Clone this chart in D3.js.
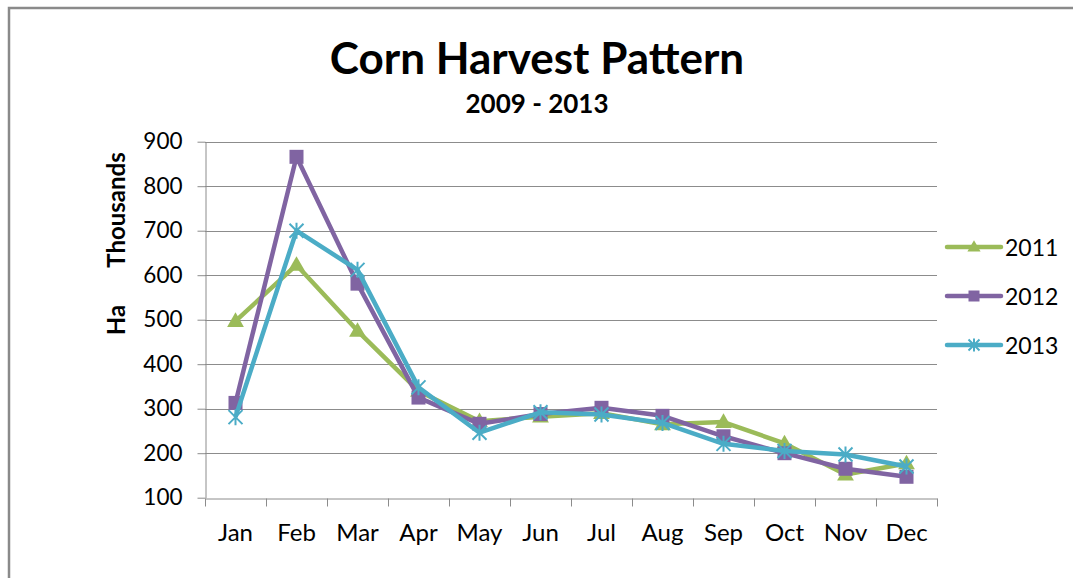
<!DOCTYPE html>
<html><head><meta charset="utf-8">
<script src="https://cdn.jsdelivr.net/npm/d3@7"></script>
<style>
html,body{margin:0;padding:0;background:#fff;}
svg{display:block;font-family:Lato,"Open Sans",sans-serif;}
</style></head>
<body><svg id="c" width="1073" height="578"></svg>
<script>
const months = ["Jan","Feb","Mar","Apr","May","Jun","Jul","Aug","Sep","Oct","Nov","Dec"];
const yTicks = [100,200,300,400,500,600,700,800,900];
const series2011 = [497,623,475,340,272,282,290,265,270,222,152,177];
const series2012 = [313,866,581,325,266,288,302,284,238,200,165,147];
const series2013 = [281,700,612,348,246,292,287,268,221,205,197,170];
const seriesNames = ["2011","2012","2013"];
const seriesColors = ["#9BBB59","#8064A2","#4BACC6"];
const seriesMarkers = ["triangle","square","star"];
const title = "Corn Harvest Pattern";
const subtitle = "2009 - 2013";
const yLabelTop = "Thousands";
const yLabelBottom = "Ha";

const svg = d3.select("#c");
// outer border
svg.append("rect").attr("x",9).attr("y",8).attr("width",1100).attr("height",600)
  .attr("fill","#fff").attr("stroke","#8a8a8a").attr("stroke-width",2.5);

const L=205,R=937,T=141.7,B=497.7;
const x = d3.scaleBand().domain(months).range([L,R]);
const y = d3.scaleLinear().domain([100,900]).range([B,T]);

// gridlines
svg.append("g").selectAll("line").data(yTicks.slice(1)).join("line")
  .attr("x1",L).attr("x2",R).attr("y1",d=>Math.round(y(d))+0.5).attr("y2",d=>Math.round(y(d))+0.5)
  .attr("stroke","#8c8c8c").attr("stroke-width",1);

// y axis
const yAxis = d3.axisLeft(y).tickValues(yTicks).tickSize(8).tickPadding(15).tickSizeOuter(0);
const gy = svg.append("g").attr("transform",`translate(${L+0.5},0)`).call(yAxis);
gy.select(".domain").attr("stroke","#8c8c8c");
gy.selectAll(".tick line").attr("stroke","#8c8c8c");
gy.selectAll(".tick text").attr("font-size",22.5).attr("fill","#000").attr("font-family","Lato");

// x axis
const xAxis = d3.axisBottom(x).tickSize(0).tickPadding(25).tickSizeOuter(0);
const gx = svg.append("g").attr("transform",`translate(0,${Math.round(B)+0.5})`).call(xAxis);
gx.select(".domain").attr("stroke","#8c8c8c");
gx.selectAll(".tick text").attr("font-size",24).attr("fill","#000").attr("font-family","Lato");
// boundary ticks
const bounds = months.map(m=>x(m)).concat([R]);
gx.append("g").selectAll("line").data(bounds).join("line")
  .attr("x1",d=>Math.round(d)+0.5).attr("x2",d=>Math.round(d)+0.5).attr("y1",0).attr("y2",8)
  .attr("stroke","#8c8c8c");

// titles
svg.append("text").attr("x",537).attr("y",74).attr("text-anchor","middle")
  .attr("font-weight","bold").attr("font-size",44).text(title);
svg.append("text").attr("x",537).attr("y",113).attr("text-anchor","middle")
  .attr("font-weight","bold").attr("font-size",26).text(subtitle);
// y labels
svg.append("text").attr("transform","translate(125,210) rotate(-90)").attr("text-anchor","middle")
  .attr("font-weight","bold").attr("font-size",24).text(yLabelTop);
svg.append("text").attr("transform","translate(125,320) rotate(-90)").attr("text-anchor","middle")
  .attr("font-weight","bold").attr("font-size",24).text(yLabelBottom);

function marker(g, type, color, s){
  if(type==="triangle"){
    g.append("path").attr("d",`M0,${-s*0.62}L${s*0.6},${s*0.42}L${-s*0.6},${s*0.42}Z`).attr("fill",color);
  } else if(type==="square"){
    g.append("rect").attr("x",-s/2).attr("y",-s/2).attr("width",s).attr("height",s).attr("fill",color);
  } else {
    const h=s/2;
    g.append("path").attr("d",`M${-h},${-h}L${h},${h}M${-h},${h}L${h},${-h}M0,${-h-1}L0,${h+1}`)
      .attr("stroke",color).attr("stroke-width",2).attr("fill","none");
  }
}

const allSeries=[series2011,series2012,series2013];
const line = d3.line().x((d,i)=>x(months[i])+x.bandwidth()/2).y(d=>y(d));
allSeries.forEach((vals,k)=>{
  const g = svg.append("g");
  g.append("path").datum(vals).attr("d",line).attr("fill","none")
    .attr("stroke",seriesColors[k]).attr("stroke-width",4.5).attr("stroke-linejoin","round");
  vals.forEach((v,i)=>{
    const mg = g.append("g").attr("transform",`translate(${x(months[i])+x.bandwidth()/2},${y(v)})`);
    marker(mg, seriesMarkers[k], seriesColors[k], 14);
  });
});

// legend
const legY=[247,296,345];
seriesNames.forEach((n,k)=>{
  const g=svg.append("g").attr("transform",`translate(0,${legY[k]})`);
  g.append("line").attr("x1",947).attr("x2",1001).attr("y1",0).attr("y2",0)
    .attr("stroke",seriesColors[k]).attr("stroke-width",4.5).attr("stroke-linecap","round");
  const mg=g.append("g").attr("transform","translate(974,0)");
  marker(mg, seriesMarkers[k], seriesColors[k], 11);
  g.append("text").attr("x",1005).attr("y",8.5).attr("font-size",23).text(n);
});
</script></body></html>
